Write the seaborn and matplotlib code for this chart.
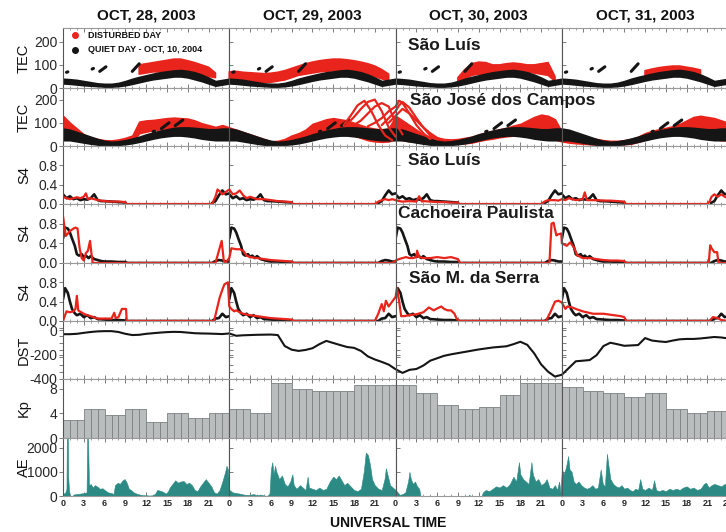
import numpy as np
import matplotlib
matplotlib.use("Agg")
import matplotlib.pyplot as plt
import seaborn as sns
from matplotlib.ticker import FixedLocator, MultipleLocator, FuncFormatter

sns.set_theme(style="ticks")
plt.rcParams["font.family"] = ["Liberation Sans", "DejaVu Sans"]

RED = "#e8241c"
BLACK = "#151515"
TEAL = "#2b8b84"
KP_FACE = "#b9bdbd"
KP_EDGE = "#7b8181"

# ---------------------------------------------------------------- text
day_titles = ["OCT, 28, 2003", "OCT, 29, 2003", "OCT, 30, 2003", "OCT, 31, 2003"]
legend_labels = ["DISTURBED DAY", "QUIET DAY - OCT, 10, 2004"]
station_names = ["São Luís", "São José dos Campos", "São Luís",
                 "Cachoeira Paulista", "São M. da Serra"]
panel_ylabels = ["TEC", "TEC", "S4", "S4", "S4", "DST", "Kp", "AE"]
x_title = "UNIVERSAL TIME"

nan = np.nan
hours_24 = np.arange(25)          # quiet day, hourly
hours_96 = np.arange(97)          # four storm days, hourly

# ---------------------------------------------------------------- TEC São Luís
tec_sl_quiet_lo = [20, 18, 15, 12, 10, 8, 6, 6, 8, 12, 18, 25, 32, 38, 42, 46, 50, 50, 46, 38, 30, 20, 10, 15, 20]
tec_sl_quiet_hi = [40, 38, 35, 30, 25, 20, 18, 18, 22, 30, 40, 48, 55, 62, 68, 72, 76, 78, 74, 68, 58, 45, 30, 35, 40]
sl_dash_h0 = [0.5, 4.2, 5.3, 10.0]
sl_dash_h1 = [0.7, 4.4, 6.2, 11.0]
sl_dash_v0 = [68, 82, 72, 72]
sl_dash_v1 = [70, 85, 92, 105]

tec_sl_dist_lo = [nan] * 11 + [60, 65, 70, 70, 70, 72, 72, 70, 65, 60, 50, 45, nan] \
    + [35, 30, 30, 28, 25, 25, 25, 30, 35, 45, 55, 60, 65, 70, 72, 75, 75, 75, 72, 65, 60, 50, 40, 30] \
    + [nan] * 9 + [30, 40, 55, 60, 60, 62, 65, 68, 70, 70, 70, 65, 60, 55, 30] \
    + [nan] * 12 + [55, 60, 65, 68, 70, 70, 68, 62, 55, nan, nan, nan, nan]
tec_sl_dist_hi = [nan] * 11 + [100, 105, 110, 115, 120, 125, 125, 118, 110, 100, 90, 65, nan] \
    + [70, 72, 68, 66, 64, 62, 64, 68, 75, 85, 95, 105, 112, 118, 122, 125, 125, 122, 118, 112, 105, 95, 80, 60] \
    + [nan] * 9 + [45, 80, 105, 112, 110, 100, 100, 105, 108, 105, 100, 100, 105, 110, 50] \
    + [nan] * 12 + [75, 82, 88, 92, 95, 95, 90, 85, 78, nan, nan, nan, nan]

# ---------------------------------------------------------------- TEC São José dos Campos
tec_sjc_quiet_lo = [25, 25, 20, 15, 10, 6, 4, 4, 5, 8, 12, 18, 25, 32, 38, 42, 45, 45, 42, 38, 32, 28, 25, 25, 25]
tec_sjc_quiet_hi = [75, 70, 60, 50, 40, 30, 22, 18, 20, 25, 32, 40, 50, 58, 66, 72, 78, 80, 80, 78, 75, 72, 72, 75, 75]
sjc_dash_h0 = [13.0, 14.2, 16.2]
sjc_dash_h1 = [13.2, 15.3, 17.3]
sjc_dash_v0 = [62, 75, 88]
sjc_dash_v1 = [64, 100, 112]

tec_sjc_dist_lo = [40, 35, 28, 20, 15, 10, 8, 8, 10, 14, 20, 55, 62, 68, 72, 75, 78, 78, 72, 62, 52, 45, 40, 45] \
    + [35, 30, 25, 20, 15, 10, 5, 8, 12, 20, 28, 40, 50, 55, 62, 65, 65, 55, 45, 35, 25, 20, 18, 20] \
    + [30, 25, 20, 18, 15, 12, 10, 8, 8, 10, 12, 15, 22, 28, 32, 38, 42, 45, 45, 40, 35, 32, 30, 28] \
    + [20, 15, 12, 10, 8, 6, 5, 5, 5, 8, 10, 18, 28, 35, 40, 45, 48, 50, 50, 45, 40, 35, 30, 25, 25]
tec_sjc_dist_hi = [130, 100, 75, 50, 38, 30, 25, 24, 28, 35, 45, 105, 110, 112, 116, 120, 122, 120, 118, 110, 98, 90, 82, 90] \
    + [80, 70, 60, 50, 40, 30, 20, 22, 30, 45, 55, 70, 95, 105, 115, 120, 115, 110, 100, 90, 80, 75, 70, 75] \
    + [130, 110, 90, 70, 50, 40, 35, 30, 28, 30, 35, 40, 50, 58, 65, 72, 78, 88, 95, 110, 125, 135, 130, 115] \
    + [60, 50, 45, 40, 35, 30, 25, 22, 22, 25, 30, 40, 55, 65, 72, 78, 85, 95, 110, 125, 130, 125, 120, 110, 100]

# storm-time satellite arcs over São José dos Campos
arc_hours = [
    [40.5, 41.5, 42.5, 43.5, 44.5, 45.5, 46.5, 47.5],
    [41, 42, 43, 44, 45, 46, 47, 48],
    [42, 43, 44, 45, 46, 47, 48, 49],
    [44, 45, 46, 47, 48, 48.5, 49, 50, 51, 52, 53],
    [46, 47, 48, 48.5, 49, 50, 51, 52, 53, 54],
    [47, 48, 49, 50, 51, 52, 53, 54, 55],
]
arc_tec = [
    [90, 130, 175, 195, 150, 90, 45, 25],
    [95, 125, 160, 190, 200, 150, 80, 40],
    [90, 110, 140, 170, 185, 170, 100, 50],
    [85, 100, 120, 150, 170, 195, 185, 140, 90, 55, 30],
    [90, 120, 150, 175, 190, 165, 120, 80, 45, 28],
    [100, 130, 160, 140, 110, 80, 55, 35, 25],
]

# ---------------------------------------------------------------- S4 São Luís
s4_sl_quiet_t = [0, .5, 1, 1.5, 2, 2.5, 3, 3.5, 4, 4.5, 5, 5.5, 6, 7, 8, 9]
s4_sl_quiet_v = [.2, .12, .16, .1, .12, .08, .1, .09, .12, .2, .08, .06, .06, .05, .04, .03]
s4_sl_quiet_t2 = [21.5, 22, 22.5, 23, 23.5, 24]
s4_sl_quiet_v2 = [.02, .06, .18, .28, .2, .22]
s4_sl_dist_t = [0, .5, 1, 1.5, 2, 2.5, 3, 3.3, 3.6, 4, 5, 6, 7, 8, 9, 9.2, 21.5, 22, 22.3, 22.7, 23, 23.5,
                24, 24.5, 25, 25.5, 26, 26.5, 27, 28, 29, 30, 31, 32, 33, 33.2, 45, 45.5, 46, 46.5, 47, 47.5,
                48, 48.5, 49, 50, 51, 51.4, 51.8, 52, 53, 54, 55, 56, 57, 57.2, 69, 69.5, 70, 71, 71.5,
                72, 72.5, 73, 74, 75, 75.3, 75.6, 76, 77, 78, 79, 80, 81, 81.2, 93, 93.3, 93.6, 94, 94.5, 95, 95.5, 96]
s4_sl_dist_v = [.15, .12, .1, .12, .14, .12, .15, .22, .1, .12, .08, .06, .05, .05, .04, 0, 0, .15, .3, .25, .2, .25,
                .3, .2, .22, .28, .18, .12, .15, .1, .1, .08, .06, .05, .04, 0, 0, .05, .08, .1, .08, .1,
                .08, .06, .05, .06, .05, .16, .05, .06, .05, .04, .04, .03, .03, 0, 0, .05, .08, .08, .07,
                .1, .08, .12, .08, .1, .24, .08, .08, .08, .07, .07, .06, .05, 0, 0, .05, .15, .2, .15, .2, .15, .12]

# ---------------------------------------------------------------- S4 Cachoeira Paulista
s4_cp_quiet_t = [0, .3, .7, 1, 1.3, 1.7, 2, 2.3, 2.7, 3, 3.3, 3.7, 4, 4.5, 5, 5.5, 6, 7, 8, 9, 9.3,
                 21.5, 22, 22.5, 23, 23.5, 24]
s4_cp_quiet_v = [.5, .72, .7, .62, .5, .35, .18, .15, .18, .12, .15, .1, .14, .08, .06, .04, .03, .03, .02, .02, 0,
                 0, .04, .06, .05, .03, .03]
s4_cp_dist_t = [0, .4, 1, 1.5, 1.8, 2.1, 2.4, 2.7, 3, 3.3, 3.6, 3.9, 4.1, 4.3, 22, 22.4, 22.9, 23.2, 23.4,
                24, 24.3, 25, 25.5, 26, 26.5, 27, 28, 29, 30, 31, 32, 33, 33.3, 47.5,
                48, 48.5, 49, 49.5, 50, 50.5, 51, 51.1, 51.4, 52, 53, 54, 55, 56, 57, 57.3, 70.2, 70.5, 70.8, 71.2, 71.4, 71.9,
                72, 72.7, 73.2, 73.8, 74.2, 75, 76, 77, 78, 79, 80, 81, 81.3, 93.2, 93.4, 93.6, 94, 94.4, 94.6, 96]
s4_cp_dist_v = [.95, .55, .65, .7, .72, .7, .3, .1, .05, .2, .25, .45, .2, 0, 0, .2, .45, .05, 0,
                .1, .3, .28, .28, .25, .15, .12, .1, .08, .06, .05, .04, .03, 0, 0,
                .05, .08, .1, .12, .1, .1, .12, .25, .12, .1, .1, .12, .1, .12, .08, 0, 0, .8, .82, .56, .58, .6,
                .4, .35, .42, .3, .16, .1, .1, .08, .06, .05, .05, .04, 0, 0, .36, .3, .22, .22, 0, 0]

# ---------------------------------------------------------------- S4 São Martinho da Serra
s4_sms_quiet_t = [0, .3, .7, 1, 1.3, 1.7, 2, 2.5, 3, 3.5, 4, 4.5, 5, 6, 7, 8, 9, 9.3, 21.5, 22, 22.5, 23, 23.5, 24]
s4_sms_quiet_v = [.45, .68, .58, .4, .25, .16, .12, .15, .08, .12, .06, .08, .04, .03, .02, .02, .01, 0, 0, .05, .06, .15, .08, .1]
s4_sms_dist_t = [0, .5, 1, 1.5, 1.8, 2, 2.2, 2.4, 3, 3.5, 4, 5, 6, 7, 7.4, 7.6, 8, 8.5, 9.1, 9.2, 21.8, 22.3, 22.6, 23, 23.3, 23.8,
                 24, 24.3, 24.7, 25, 25.5, 26, 27, 28, 29, 30, 31, 32, 33, 33.3, 45, 45.5, 46, 46.3, 46.6, 47, 47.5,
                 48, 48.2, 48.5, 48.8, 49.2, 50, 51, 52, 52.8, 53.5, 54, 54.6, 55, 55.5, 56, 56.5, 56.8, 57.2, 69.7, 70.4, 71, 71.5,
                 72, 72.5, 72.8, 73.5, 74, 75, 76.5, 78, 79.5, 80.5, 81, 81.3, 93.3, 93.8, 94.5, 95, 96]
s4_sms_dist_v = [0, .2, .18, .2, .25, .52, .22, .2, .15, .12, .1, .05, .05, .05, .17, .06, .08, .25, .25, 0, 0, .3, .48, .65, .76, .8,
                 .3, .25, .2, .22, .18, .15, .12, .1, .08, .06, .05, .04, .03, 0, 0, .15, .35, .2, .42, .3, .4,
                 .5, .68, .42, .1, .1, .12, .14, .18, .28, .22, .26, .3, .25, .22, .22, .15, .05, 0, 0, .2, .4, .42,
                 .38, .25, .3, .28, .25, .2, .15, .15, .12, .1, .08, 0, 0, .08, .06, .02, 0]

# ---------------------------------------------------------------- Dst (nT), hourly
dst_values = [-33, -33, -30, -22, -15, -10, -8, -8, -15, -30, -40, -38, -30, -25, -20, -16, -14, -15, -20, -25, -27, -28, -30, -32,
              -27, -46, -42, -40, -38, -37, -36, -40, -130, -160, -170, -162, -148, -115, -88, -105, -122, -138, -145, -170, -215, -240, -260, -282,
              -320, -350, -325, -318, -290, -250, -230, -210, -198, -188, -178, -168, -158, -150, -142, -137, -132, -115, -95, -120, -190, -280, -340, -380,
              -365, -310, -255, -250, -245, -205, -130, -103, -115, -128, -125, -122, -65, -85, -92, -97, -85, -75, -72, -72, -68, -62, -56, -60, -68]

# ---------------------------------------------------------------- Kp, 3-hour values
kp_values = [3, 4.67, 3.67, 4.67, 2.67, 4, 3.33, 4,
             4.67, 4, 9, 8, 7.67, 7.67, 8.67, 8.67,
             8.67, 7.33, 5.33, 4.67, 5, 7, 9, 9,
             8.33, 7.67, 7.33, 6.67, 7.33, 4.67, 4, 4.33]

# ---------------------------------------------------------------- AE (nT)
ae_hours = [0, .3, .5, .55, .7, .75, .85, 1.0, 1.4, 1.5, 2, 2.5, 3, 3.4, 3.5, 3.6, 3.75, 3.8, 4, 4.3, 4.6, 5, 5.3, 5.7, 6, 6.5, 7, 7.3,
            7.5, 7.9, 8.2, 8.6, 8.9, 9.2, 9.5, 9.8, 10.2, 10.6, 11, 11.5, 12, 12.5, 13, 13.3, 13.6, 14, 14.4, 14.7, 15, 15.4, 15.8,
            16.2, 16.6, 17, 17.4, 17.8, 18.2, 18.6, 19, 19.4, 19.8, 20.2, 20.6, 21, 21.4, 21.8, 22.2, 22.6, 23, 23.4, 23.6, 23.8,
            24, 24.5, 25, 25.5, 26, 26.5, 27, 27.5, 28, 28.5, 29, 29.5, 29.8, 30.0, 30.2, 30.4, 30.6, 30.8, 31.2, 31.6, 32, 32.4,
            32.8, 33.1, 33.3, 33.7, 34.2, 34.6, 35, 35.3, 35.5, 36, 36.5, 37, 37.5, 38, 38.5, 39, 39.4, 39.8, 40.2, 40.6, 41,
            41.5, 42, 42.5, 43, 43.4, 43.7, 44, 44.3, 44.6, 45, 45.5, 46, 46.4, 46.6, 46.9, 47.2, 47.6,
            48, 48.3, 48.6, 49, 49.4, 49.8, 50.0, 50.2, 50.5, 50.8, 51.1, 51.4, 51.6, 58.5, 58.6, 58.8, 60.4, 60.6, 61, 61.5,
            62, 62.5, 63, 63.5, 64, 64.5, 65, 65.4, 65.8, 66, 66.4, 66.8, 67.2, 67.6, 67.8, 68.2, 68.6, 69, 69.5, 69.8, 70.2,
            70.6, 71, 71.3, 71.6, 71.8,
            72, 72.3, 72.6, 72.9, 73.1, 73.4, 73.7, 74, 74.4, 74.8, 75.2, 75.6, 76, 76.4, 76.8, 77.2, 77.6, 77.9, 78.2, 78.5,
            78.7, 79, 79.4, 79.8, 80.2, 80.6, 81, 81.4, 81.8, 82.2, 82.6, 83, 83.3, 83.6, 84, 84.5, 85, 85.3, 85.6, 86, 86.5,
            87, 87.5, 88, 88.5, 89, 89.5, 90, 90.5, 91, 91.5, 92, 92.5, 92.8, 93.2, 93.6, 94, 94.5, 95, 95.5, 96]
ae_values = [100, 120, 300, 2600, 2600, 800, 300, 0, 0, 60, 80, 100, 120, 150, 2600, 2600, 400, 450, 500, 350, 450, 380, 300, 320, 250, 150, 120, 80,
             450, 550, 500, 650, 700, 550, 300, 250, 150, 100, 60, 40, 30, 20, 30, 100, 250, 220, 180, 120, 100, 350, 500,
             650, 550, 600, 620, 500, 550, 450, 250, 200, 400, 550, 700, 550, 400, 150, 100, 250, 600, 1000, 1250, 1100,
             250, 150, 120, 100, 60, 50, 50, 80, 30, 60, 20, 10, 100, 1100, 1400, 900, 1250, 1000, 700, 850, 500, 400,
             600, 900, 450, 300, 450, 350, 250, 800, 350, 300, 250, 350, 250, 300, 600, 800, 700, 850, 650, 450, 550,
             400, 250, 200, 300, 1000, 1800, 1700, 1300, 700, 450, 300, 250, 700, 1150, 800, 450, 350,
             250, 150, 50, 80, 150, 600, 1000, 700, 500, 600, 400, 300, 0, 0, 60, 0, 0, 150, 250, 200,
             300, 400, 350, 450, 350, 500, 800, 600, 1400, 900, 700, 600, 500, 1400, 900, 600, 700, 450, 550, 700, 350,
             300, 450, 250, 600, 150,
             1100, 900, 1200, 1650, 1100, 1000, 600, 500, 600, 450, 350, 300, 350, 450, 300, 350, 1100, 500, 400, 1750,
             1300, 700, 500, 400, 350, 450, 300, 350, 250, 200, 300, 250, 700, 300, 250, 350, 250, 650, 250, 200, 250,
             200, 300, 250, 300, 250, 350, 400, 300, 350, 250, 300, 500, 550, 350, 450, 500, 450, 400, 500, 450]

# ---------------------------------------------------------------- layout
W, H = 726, 532
fig = plt.figure(figsize=(W / 100, H / 100), dpi=100)
row_edges = [28, 88, 146, 204, 263, 321, 379, 438, 496]
col_edges = [63, 229.3, 395.6, 561.9, 728.2]
axes = np.empty((8, 4), dtype=object)
for r in range(8):
    for c in range(4):
        x0, x1 = col_edges[c] / W, col_edges[c + 1] / W
        y0, y1 = 1 - row_edges[r + 1] / H, 1 - row_edges[r] / H
        axes[r, c] = fig.add_axes([x0, y0, x1 - x0, y1 - y0])

ylims = [(0, 260), (0, 250), (0, 1.2), (0, 1.2), (0, 1.2), (-400, 75), (0, 9.6), (0, 2400)]
yticks = [[0, 100, 200], [0, 100, 200], [0, .4, .8], [0, .4, .8], [0, .4, .8],
          [-400, -200, 0], [0, 4, 8], [0, 1000, 2000]]
yfmt = ["{:.0f}", "{:.0f}", "{:.1f}", "{:.1f}", "{:.1f}", "{:.0f}", "{:.0f}", "{:.0f}"]


def band(ax, t, lo, hi, color):
    ax.fill_between(t, lo, hi, color=color, lw=1.2, edgecolor=color)


for c in range(4):
    off = 24 * c
    qh = hours_24 + off

    # TEC São Luís: disturbed under quiet
    ax = axes[0, c]
    band(ax, hours_96, tec_sl_dist_lo, tec_sl_dist_hi, RED)
    band(ax, qh, tec_sl_quiet_lo, tec_sl_quiet_hi, BLACK)
    for h0, h1, v0, v1 in zip(sl_dash_h0, sl_dash_h1, sl_dash_v0, sl_dash_v1):
        ax.plot([h0 + off, h1 + off], [v0, v1], color=BLACK, lw=2.2, solid_capstyle="round")

    # TEC São José dos Campos
    ax = axes[1, c]
    band(ax, hours_96, tec_sjc_dist_lo, tec_sjc_dist_hi, RED)
    band(ax, qh, tec_sjc_quiet_lo, tec_sjc_quiet_hi, BLACK)
    for h0, h1, v0, v1 in zip(sjc_dash_h0, sjc_dash_h1, sjc_dash_v0, sjc_dash_v1):
        ax.plot([h0 + off, h1 + off], [v0, v1], color=BLACK, lw=2.2, solid_capstyle="round")
    for ah, av in zip(arc_hours, arc_tec):
        sns.lineplot(x=ah, y=av, ax=ax, color=RED, lw=1.6, estimator=None, sort=False)

    # S4 panels
    ax = axes[2, c]
    sns.lineplot(x=np.array(s4_sl_quiet_t) + off, y=s4_sl_quiet_v, ax=ax, color=BLACK, lw=1.9, estimator=None, sort=False)
    sns.lineplot(x=np.array(s4_sl_quiet_t2) + off, y=s4_sl_quiet_v2, ax=ax, color=BLACK, lw=1.9, estimator=None, sort=False)
    sns.lineplot(x=s4_sl_dist_t, y=s4_sl_dist_v, ax=ax, color=RED, lw=1.6, estimator=None, sort=False)

    ax = axes[3, c]
    sns.lineplot(x=np.array(s4_cp_quiet_t) + off, y=s4_cp_quiet_v, ax=ax, color=BLACK, lw=1.9, estimator=None, sort=False)
    sns.lineplot(x=s4_cp_dist_t, y=s4_cp_dist_v, ax=ax, color=RED, lw=1.6, estimator=None, sort=False)

    ax = axes[4, c]
    sns.lineplot(x=np.array(s4_sms_quiet_t) + off, y=s4_sms_quiet_v, ax=ax, color=BLACK, lw=1.9, estimator=None, sort=False)
    sns.lineplot(x=s4_sms_dist_t, y=s4_sms_dist_v, ax=ax, color=RED, lw=1.6, estimator=None, sort=False)

    # Dst
    ax = axes[5, c]
    sns.lineplot(x=hours_96, y=dst_values, ax=ax, color=BLACK, lw=1.5, estimator=None, sort=False)

    # Kp, one bar per hour inside each 3-hour interval
    ax = axes[6, c]
    ax.bar(np.arange(96) + 0.5, np.repeat(kp_values, 3), width=1.0,
           color=KP_FACE, edgecolor=KP_EDGE, linewidth=0.6)

    # AE
    ax = axes[7, c]
    ax.fill_between(ae_hours, 0, ae_values, color=TEAL, lw=0.4, edgecolor=TEAL)

# ---------------------------------------------------------------- axes styling
for r in range(8):
    for c in range(4):
        ax = axes[r, c]
        ax.set_xlim(24 * c, 24 * c + 24)
        ax.set_ylim(*ylims[r])
        ax.set_xlabel("")
        ax.set_ylabel("")
        for side in ("top", "bottom"):
            ax.spines[side].set_color("#9a9a9a")
            ax.spines[side].set_linewidth(0.8)
        for side in ("left", "right"):
            ax.spines[side].set_color("#555555")
            ax.spines[side].set_linewidth(0.8)
        major = [24 * c + h for h in range(0, 24, 3)] + ([96] if c == 3 else [])
        ax.xaxis.set_major_locator(FixedLocator(major))
        ax.xaxis.set_minor_locator(MultipleLocator(1))
        ax.xaxis.set_major_formatter(FuncFormatter(lambda x, p: "24" if x >= 95.5 else f"{int(round(x)) % 24}"))
        ax.tick_params(axis="x", which="major", direction="in", top=True, bottom=True,
                       length=3, width=0.6, color="#666666", pad=2,
                       labelbottom=(r == 7), labelsize=6.5)
        ax.tick_params(axis="x", which="minor", direction="in", top=True, bottom=True,
                       length=1.5, width=0.5, color="#777777")
        ax.yaxis.set_major_locator(FixedLocator(yticks[r]))
        ax.yaxis.set_minor_locator(FixedLocator(
            np.linspace(ylims[r][0], ylims[r][1], 9) if r in (5,) else []))
        ax.yaxis.set_major_formatter(FuncFormatter(lambda v, p, f=yfmt[r]: f.format(v)))
        ax.tick_params(axis="y", which="both", direction="out" if c == 0 else "in",
                       left=True, right=False, length=3, width=0.6, color="#666666",
                       labelleft=(c == 0), labelsize=10, pad=1)
        if r == 7:
            for lab in ax.get_xticklabels():
                lab.set_fontweight("bold")

# ---------------------------------------------------------------- text
for c, title in enumerate(day_titles):
    cx = (col_edges[c] + col_edges[c + 1]) / 2
    fig.text(cx / W, 1 - 20 / H, title, ha="center", va="baseline",
             fontsize=11, fontweight="bold", color="#111111")

for r, lab in enumerate(panel_ylabels):
    cy = (row_edges[r] + row_edges[r + 1]) / 2
    fig.text(24 / W, 1 - cy / H, lab, rotation=90, ha="center", va="center",
             fontsize=10.5, color="#111111")

station_pos = [(408, 50), (410, 105), (408, 165), (398, 218), (409, 283)]
for name, (sx, sy) in zip(station_names, station_pos):
    fig.text(sx / W, 1 - sy / H, name, ha="left", va="baseline",
             fontsize=12.5, fontweight="bold", color="#1a1a1a")

lg = axes[0, 0]
for (ly, col), lab in zip([(0.88, RED), (0.64, BLACK)], legend_labels):
    lg.plot([0.072], [ly], "o", color=col, ms=4, transform=lg.transAxes, clip_on=False)
    lg.text(0.15, ly, lab, transform=lg.transAxes, ha="left", va="center",
            fontsize=6.5, fontweight="bold", color="#111111")

fig.text(388 / W, 1 - 527 / H, x_title, ha="center", va="baseline",
         fontsize=10, fontweight="bold", color="#111111")

fig.savefig("out.png", dpi=100)
